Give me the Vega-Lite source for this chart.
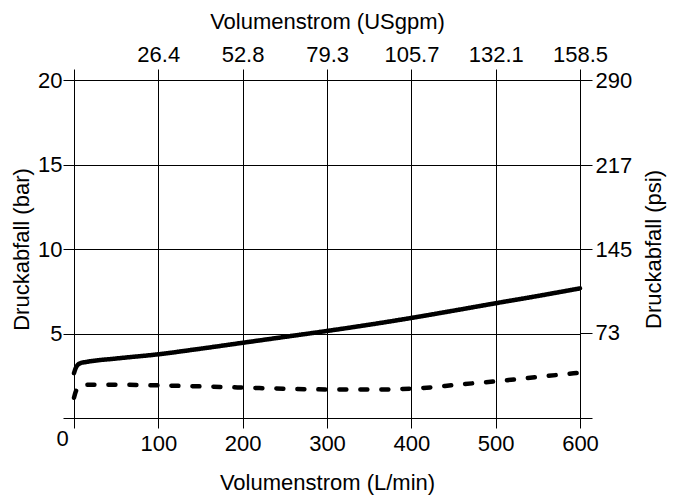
{
  "$schema": "https://vega.github.io/schema/vega-lite/v6.json",
  "autosize": "none",
  "width": 506,
  "height": 338,
  "padding": {"left": 74, "top": 80, "right": 102, "bottom": 81},
  "background": "white",
  "config": {
    "view": {"stroke": null},
    "font": "Liberation Sans",
    "axis": {
      "labelFont": "Liberation Sans",
      "titleFont": "Liberation Sans",
      "labelFontSize": 22,
      "titleFontSize": 22,
      "titleFontWeight": "normal",
      "labelColor": "black",
      "titleColor": "black",
      "domainColor": "black",
      "tickColor": "black",
      "gridColor": "black",
      "gridOpacity": 1,
      "gridWidth": 1,
      "domainWidth": 1,
      "tickWidth": 1
    }
  },
  "resolve": {"scale": {"x": "independent", "y": "independent"}, "axis": {"x": "independent", "y": "independent"}},
  "layer": [
    {
      "data": {"values": [
        {"Q": 0, "p": 2.65, "s": "a"},
        {"Q": 2, "p": 2.95, "s": "a"},
        {"Q": 4, "p": 3.12, "s": "a"},
        {"Q": 8, "p": 3.25, "s": "a"},
        {"Q": 15, "p": 3.32, "s": "a"},
        {"Q": 50, "p": 3.52, "s": "a"},
        {"Q": 100, "p": 3.77, "s": "a"},
        {"Q": 150, "p": 4.1, "s": "a"},
        {"Q": 200, "p": 4.45, "s": "a"},
        {"Q": 250, "p": 4.8, "s": "a"},
        {"Q": 300, "p": 5.15, "s": "a"},
        {"Q": 350, "p": 5.52, "s": "a"},
        {"Q": 400, "p": 5.92, "s": "a"},
        {"Q": 450, "p": 6.35, "s": "a"},
        {"Q": 500, "p": 6.79, "s": "a"},
        {"Q": 550, "p": 7.22, "s": "a"},
        {"Q": 600, "p": 7.67, "s": "a"},
        {"Q": 0, "p": 1.2, "s": "b"},
        {"Q": 2, "p": 1.55, "s": "b"},
        {"Q": 4, "p": 1.75, "s": "b"},
        {"Q": 8, "p": 1.9, "s": "b"},
        {"Q": 15, "p": 1.97, "s": "b"},
        {"Q": 50, "p": 1.97, "s": "b"},
        {"Q": 100, "p": 1.93, "s": "b"},
        {"Q": 150, "p": 1.87, "s": "b"},
        {"Q": 200, "p": 1.8, "s": "b"},
        {"Q": 250, "p": 1.73, "s": "b"},
        {"Q": 300, "p": 1.69, "s": "b"},
        {"Q": 350, "p": 1.68, "s": "b"},
        {"Q": 400, "p": 1.74, "s": "b"},
        {"Q": 425, "p": 1.82, "s": "b"},
        {"Q": 450, "p": 1.95, "s": "b"},
        {"Q": 500, "p": 2.17, "s": "b"},
        {"Q": 550, "p": 2.43, "s": "b"},
        {"Q": 600, "p": 2.68, "s": "b"}
      ]},
      "mark": {"type": "line", "color": "black", "strokeWidth": 4.5, "strokeCap": "round", "interpolate": "monotone"},
      "encoding": {
        "x": {
          "field": "Q", "type": "quantitative",
          "scale": {"domain": [0, 600], "nice": false, "zero": false},
          "axis": {
            "orient": "bottom",
            "values": [0, 100, 200, 300, 400, 500, 600],
            "grid": true,
            "tickSize": 10,
            "labelPadding": {"condition": {"test": "datum.value == 0", "value": 0}, "value": 5},
            "labelOffset": {"condition": {"test": "datum.value == 0", "value": -12}, "value": 0},
            "labelFlush": false,
            "title": "Volumenstrom (L/min)",
            "titlePadding": 18
          }
        },
        "y": {
          "field": "p", "type": "quantitative",
          "scale": {"domain": [0, 20], "nice": false},
          "axis": {
            "orient": "left",
            "values": [0, 5, 10, 15, 20],
            "labelExpr": "datum.value == 0 ? '' : datum.label",
            "grid": true,
            "tickSize": 11,
            "labelPadding": 1,
            "title": "Druckabfall (bar)",
            "titlePadding": 4
          }
        },
        "detail": {"field": "s", "type": "nominal"},
        "strokeDash": {
          "field": "s", "type": "nominal",
          "scale": {"domain": ["a", "b"], "range": [[1, 0], [7, 14]]},
          "legend": null
        }
      }
    },
    {
      "data": {"values": [
        {"g": 0, "psi": 0},
        {"g": 158.5, "psi": 290}
      ]},
      "mark": {"type": "point", "opacity": 0},
      "encoding": {
        "x": {
          "field": "g", "type": "quantitative",
          "scale": {"domain": [0, 158.5], "nice": false, "zero": false},
          "axis": {
            "orient": "top",
            "values": [0, 26.4, 52.8, 79.3, 105.7, 132.1, 158.5],
            "format": ".1f",
            "labelExpr": "datum.value == 0 ? '' : datum.label",
            "grid": false,
            "tickSize": 11,
            "labelPadding": 3,
            "labelFlush": false,
            "title": "Volumenstrom (USgpm)",
            "titlePadding": 10
          }
        },
        "y": {
          "field": "psi", "type": "quantitative",
          "scale": {"domain": [0, 290], "nice": false},
          "axis": {
            "orient": "right",
            "values": [0, 73, 145, 217, 290],
            "labelExpr": "datum.value == 0 ? '' : datum.label",
            "grid": false,
            "tickSize": 12,
            "labelPadding": 3,
            "title": "Druckabfall (psi)",
            "titleAngle": 270,
            "titlePadding": 34
          }
        }
      }
    }
  ]
}
